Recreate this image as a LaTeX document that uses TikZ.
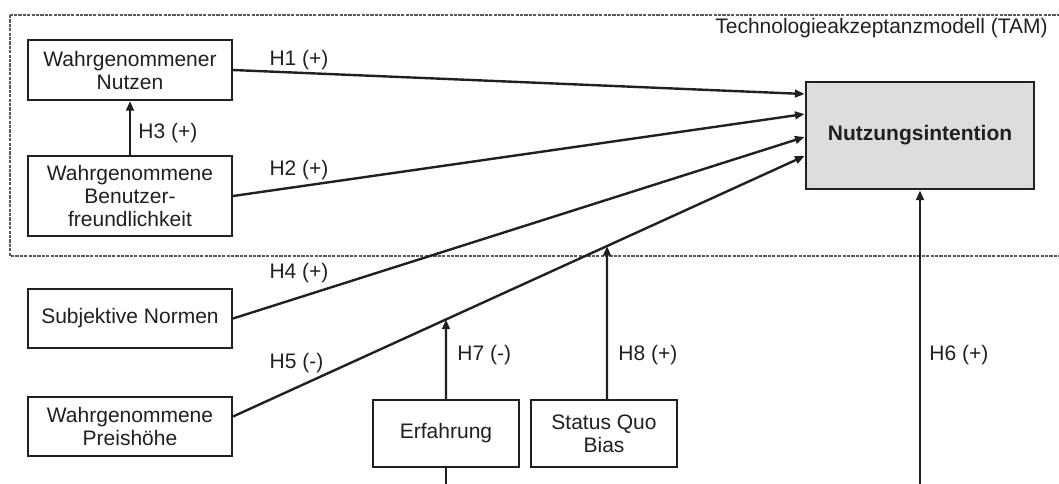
\documentclass[tikz,border=0pt]{standalone}
\usepackage{fontspec}
\setmainfont{Liberation Sans}
\usetikzlibrary{arrows.meta,intersections}
\definecolor{ink}{HTML}{231F20}
\definecolor{nifill}{HTML}{DCDDDF}
\definecolor{dashgray}{HTML}{58595B}
\begin{document}
\begin{tikzpicture}[x=0.5pt,y=-0.5pt,
  every node/.style={font=\fontsize{10.5pt}{11.5pt}\selectfont, text=ink},
  construct/.style={draw=ink, line width=1pt, fill=white, align=center,
    inner sep=0pt, minimum width=102pt},
  smallbox/.style={construct, minimum width=73pt, minimum height=33.5pt},
  target/.style={draw=ink, line width=1.4pt, fill=nifill, align=center,
    inner sep=0pt, minimum width=114pt, minimum height=53.5pt, font=\fontsize{10.5pt}{11.5pt}\selectfont\bfseries},
  link/.style={draw=ink, line width=1.2pt, -{Triangle[length=4.8pt,width=3.8pt]}},
  plain/.style={draw=ink, line width=1.2pt},
  hyp/.style={inner sep=0pt}]
\useasboundingbox (0,0) rectangle (1059,483);

% TAM frame (runs off the right edge)
\draw[dashgray, line width=0.55pt, dash pattern=on 1.6pt off 0.6pt] (10,15) rectangle (1075,256);
\node[hyp, anchor=east] (tam) at (1048,28) {Technologieakzeptanzmodell (TAM)};

% Constructs
\node[construct, minimum height=30pt] (nutzen) at (130,70) {Wahrgenommener\\Nutzen};
\node[construct, minimum height=40pt] (bf) at (130,196) {Wahrgenommene\\Benutzer-\\freundlichkeit};
\node[construct, minimum height=29.5pt] (sn) at (130,318.5) {Subjektive Normen};
\node[construct, minimum height=29.5pt] (ph) at (130,426.5) {Wahrgenommene\\Preishöhe};
\node[smallbox] (erf) at (446,433.5) {Erfahrung};
\node[smallbox] (sqb) at (604,433.5) {Status Quo\\Bias};
\node[target] (ni) at (920,135.5) {Nutzungsintention};

% Incoming lines from below the picture
\coordinate (erfin) at (erf.south |- 0,490);
\coordinate (h6in) at (ni.south |- 0,490);

% Direct effects on the intention
\draw[link] (nutzen.east) -- ([yshift=20.75pt]ni.west);
\draw[link] (bf.east) -- ([yshift=10.75pt]ni.west);
\draw[link] (sn.east) -- ([yshift=-0.75pt]ni.west);
\draw[link, name path=h5] ([yshift=5pt]ph.east) -- ([yshift=-10.25pt]ni.west);
\draw[link] (bf.north) -- (nutzen.south);
\draw[link] (h6in) -- (ni.south);

% Moderators acting on the H5 path
\path[name path=v7] (erf.north) -- ++(0,-300);
\path[name path=v8] ([xshift=1.5pt]sqb.north) -- ++(0,-300);
\path[name intersections={of=h5 and v7, by=m7}];
\path[name intersections={of=h5 and v8, by=m8}];
\draw[link] (erf.north) -- (m7);
\draw[link] ([xshift=1.5pt]sqb.north) -- (m8);
\draw[plain] (erfin) -- (erf.south);

% Hypothesis labels
\node[hyp] (l1) at (299,60) {H1 (+)};
\node[hyp] (l2) at (299,170) {H2 (+)};
\node[hyp, anchor=west] (l3) at (138,133) {H3 (+)};
\node[hyp] (l4) at (299,273) {H4 (+)};
\node[hyp] (l5) at (296.5,363) {H5 (-)};
\node[hyp, anchor=west] (l7) at (457,355) {H7 (-)};
\node[hyp, anchor=west] (l8) at (618,355) {H8 (+)};
\node[hyp, anchor=west] (l6) at (929,355) {H6 (+)};
\end{tikzpicture}
\end{document}
